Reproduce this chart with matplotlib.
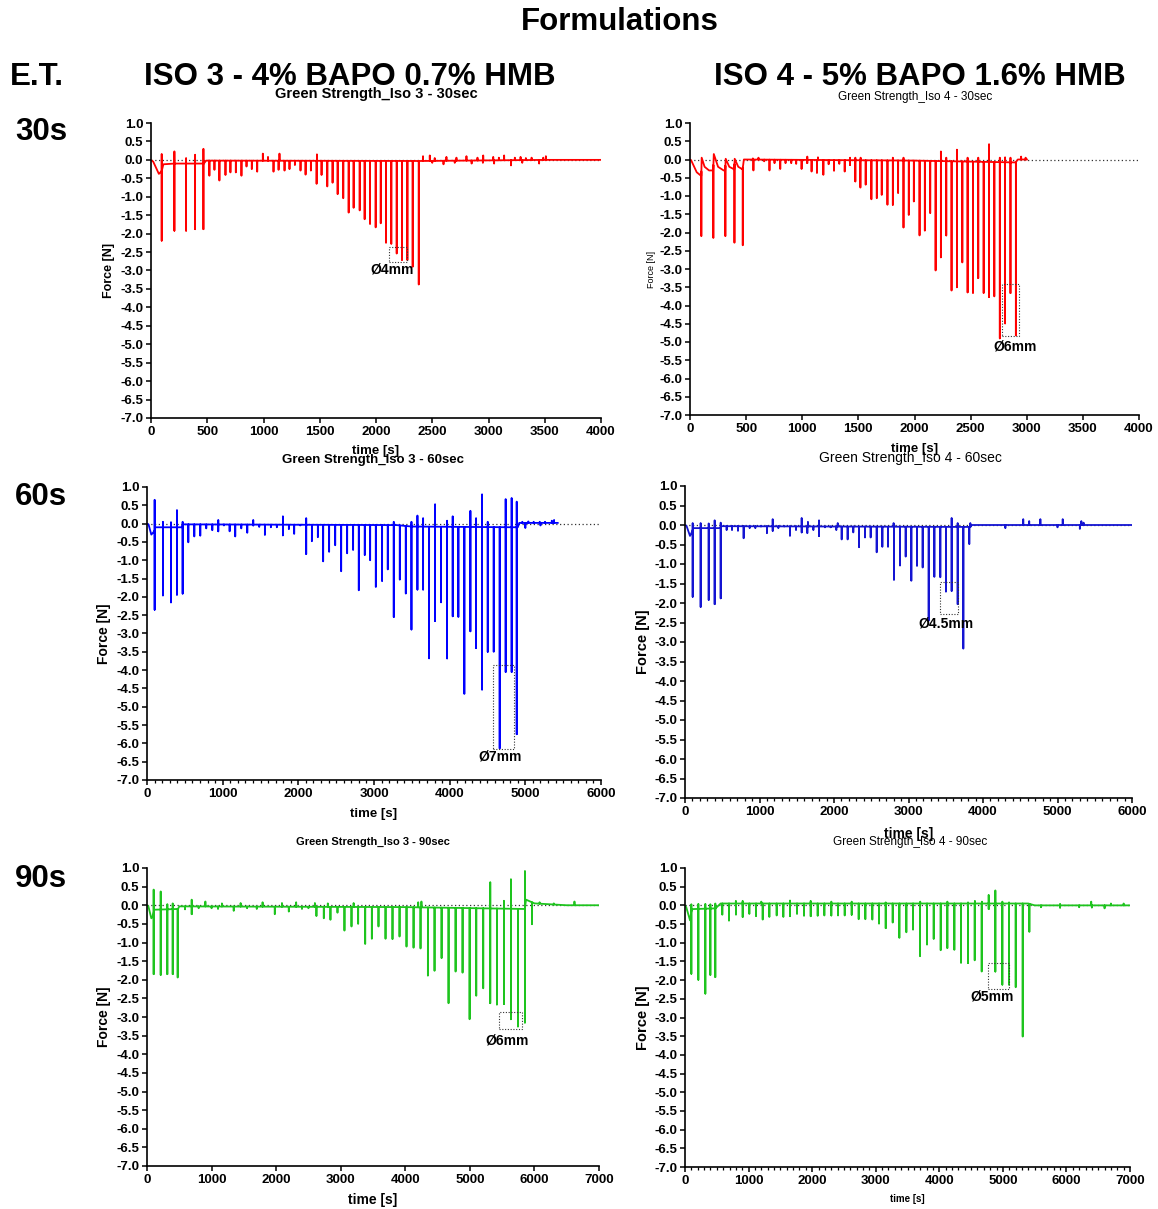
import numpy as np
import matplotlib
matplotlib.use("Agg")
import matplotlib.pyplot as plt
from matplotlib.patches import Rectangle
from matplotlib.ticker import MultipleLocator

plt.rcParams['font.family'] = ['Liberation Sans', 'DejaVu Sans']

W, H = 1158, 1209

# ---------------- data ----------------
# Iso 3 - 30 s (red)
p1_base_t = [0, 20, 70, 95, 110, 200, 470, 490, 2400, 3520, 4000]
p1_base_v = [0, -0.05, -0.38, -0.3, -0.12, -0.1, -0.1, -0.02, -0.03, 0.0, 0.0]
p1_dip_t = [95, 208, 312, 392, 466, 519, 564, 608, 662, 706, 754, 804, 849, 896, 944,
            1089, 1134, 1187, 1231, 1279, 1329, 1374, 1421, 1472, 1516, 1567, 1614, 1659,
            1709, 1757, 1801, 1855, 1899, 1947, 1997, 2042, 2089, 2136, 2184, 2231, 2279,
            2326, 2380, 2500, 2600, 2700, 2850, 2950, 3050, 3200, 3300, 3450]
p1_dip_v = [-2.19, -1.92, -1.92, -1.88, -1.88, -0.43, -0.27, -0.56, -0.41, -0.34, -0.34,
            -0.43, -0.18, -0.25, -0.32, -0.32, -0.27, -0.29, -0.25, -0.14, -0.29, -0.40,
            -0.29, -0.65, -0.41, -0.72, -0.62, -0.93, -1.04, -1.43, -1.30, -1.37, -1.61,
            -1.74, -1.83, -1.72, -2.25, -2.28, -2.54, -2.72, -2.72, -2.90, -3.38,
            -0.08, -0.12, -0.08, -0.1, -0.08, -0.1, -0.15, -0.08, -0.1]
p1_peak_t = [95, 208, 312, 392, 466, 994, 1040, 1142, 1475, 2418, 2478, 2522, 2626, 2715,
             2804, 2902, 2953, 3042, 3092, 3139, 3234, 3285, 3332, 3383, 3487, 3510]
p1_peak_v = [0.16, 0.23, 0.05, 0.14, 0.3, 0.17, 0.08, 0.17, 0.15, 0.1, 0.12, 0.05, 0.08,
             0.06, 0.1, 0.06, 0.12, 0.08, 0.06, 0.12, 0.06, 0.08, 0.05, 0.06, 0.06, 0.1]

# Iso 4 - 30 s (red)
p2_base_t = [0, 10, 60, 100, 104, 130, 170, 206, 212, 250, 300, 313, 318, 350, 394, 398,
             430, 468, 480, 2000, 2900, 2920, 3010]
p2_base_v = [0, -0.02, -0.35, -0.45, 0.05, -0.2, -0.3, -0.3, 0.15, -0.2, -0.3, -0.3, 0.02,
             -0.2, -0.27, 0.02, -0.2, -0.27, 0.0, -0.03, -0.08, 0.0, 0.0]
p2_dip_t = [101, 208, 315, 396, 470, 565, 661, 708, 753, 804, 851, 902, 946, 994, 1045,
            1083, 1131, 1188, 1235, 1283, 1330, 1378, 1426, 1473, 1518, 1565, 1616, 1664,
            1708, 1759, 1807, 1854, 1902, 1949, 1994, 2045, 2092, 2140, 2188, 2235, 2283,
            2330, 2378, 2426, 2473, 2521, 2568, 2616, 2664, 2711, 2760, 2807, 2855, 2903]
p2_dip_v = [-2.1, -2.15, -2.1, -2.28, -2.35, -0.3, -0.05, -0.3, -0.1, -0.26, -0.1, -0.1,
            -0.12, -0.26, -0.1, -0.33, -0.37, -0.42, -0.13, -0.31, -0.12, -0.33, -0.15,
            -0.6, -0.77, -0.69, -1.09, -1.06, -0.97, -1.24, -1.24, -0.92, -1.86, -1.52,
            -1.15, -2.08, -1.95, -1.47, -3.04, -2.68, -2.08, -3.59, -3.5, -2.82, -3.64,
            -3.66, -3.25, -3.66, -3.77, -3.75, -4.9, -4.49, -3.66, -4.82]
p2_peak_t = [560, 610, 1045, 1140, 1426, 1473, 1520, 1807, 1902, 2235, 2283, 2378, 2473,
             2568, 2664, 2760, 2807, 2855, 2950, 2990]
p2_peak_v = [0.03, 0.05, 0.08, 0.06, 0.05, 0.05, 0.05, 0.05, 0.05, 0.22, 0.05, 0.27, 0.05,
             0.05, 0.42, 0.05, 0.06, 0.05, 0.08, 0.05]

# Iso 3 - 60 s (blue)
p3_base_t = [0, 20, 57, 100, 110, 460, 480, 3300, 3500, 4900, 4920, 5440]
p3_base_v = [0, -0.02, -0.3, -0.2, -0.1, -0.1, -0.02, -0.04, -0.08, -0.1, 0.02, 0.02]
p3_dip_t = [101, 211, 317, 396, 471, 546, 625, 704, 783, 863, 942, 1017, 1092, 1166, 1246,
            1325, 1404, 1483, 1558, 1637, 1716, 1796, 1875, 1945, 2025, 2104, 2179, 2258,
            2328, 2407, 2487, 2566, 2645, 2724, 2799, 2878, 2949, 3024, 3107, 3182, 3261,
            3341, 3420, 3495, 3574, 3649, 3728, 3807, 3886, 3966, 4040, 4115, 4194, 4274,
            4349, 4428, 4503, 4582, 4661, 4740, 4819, 4886, 5000, 5200]
p3_dip_v = [-2.35, -1.96, -2.15, -1.94, -1.91, -0.51, -0.35, -0.33, -0.13, -0.18, -0.21,
            -0.05, -0.21, -0.35, -0.13, -0.25, -0.05, -0.09, -0.31, -0.1, -0.1, -0.32,
            -0.15, -0.28, -0.05, -0.83, -0.48, -0.37, -1.03, -0.77, -0.59, -1.3, -0.81,
            -0.72, -1.82, -0.86, -1.0, -1.73, -1.57, -1.25, -2.55, -1.53, -1.91, -2.89,
            -1.8, -1.8, -3.68, -2.66, -2.15, -3.68, -2.53, -2.55, -4.65, -2.94, -3.4,
            -4.53, -3.5, -3.5, -6.14, -4.05, -4.05, -5.75, -0.12, -0.05]
p3_peak_t = [101, 211, 317, 396, 471, 942, 1404, 1796, 2104, 3261, 3495, 3574, 3649, 3807,
             3966, 4040, 4274, 4349, 4428, 4503, 4740, 4819, 4886, 4960, 5040, 5110, 5190,
             5260, 5350, 5380]
p3_peak_v = [0.65, 0.05, 0.04, 0.37, 0.05, 0.1, 0.1, 0.2, 0.15, 0.05, 0.05, 0.22, 0.15,
             0.53, 0.08, 0.2, 0.35, 0.15, 0.8, 0.05, 0.67, 0.7, 0.6, 0.05, 0.06, 0.05, 0.05,
             0.05, 0.08, 0.1]

# Iso 4 - 60 s (blue)
p4_base_t = [0, 20, 67, 100, 110, 470, 490, 3830, 3850, 6000]
p4_base_v = [0, -0.02, -0.28, -0.15, -0.08, -0.08, -0.03, -0.05, 0.0, 0.0]
p4_dip_t = [103, 210, 318, 398, 479, 559, 631, 711, 787, 868, 944, 1020, 1100, 1177, 1253,
            1333, 1409, 1490, 1566, 1642, 1723, 1799, 1879, 1955, 2031, 2103, 2183, 2259,
            2336, 2416, 2492, 2573, 2649, 2725, 2805, 2886, 2962, 3038, 3114, 3190, 3271,
            3347, 3427, 3503, 3579, 3660, 3736, 3816, 4300, 5000, 5300]
p4_dip_v = [-1.84, -2.1, -1.92, -2.03, -1.88, -0.13, -0.13, -0.15, -0.34, -0.08, -0.08,
            -0.04, -0.21, -0.15, -0.08, -0.04, -0.28, -0.13, -0.19, -0.21, -0.13, -0.28,
            -0.06, -0.06, -0.13, -0.37, -0.37, -0.19, -0.57, -0.32, -0.32, -0.7, -0.56,
            -0.56, -1.41, -1.04, -0.81, -1.43, -1.05, -1.09, -2.45, -1.33, -1.34, -1.71,
            -1.69, -2.03, -3.17, -0.49, -0.08, -0.06, -0.1]
p4_peak_t = [103, 210, 318, 398, 479, 1177, 1566, 1650, 1799, 2050, 2800, 3579, 3660, 3830,
             4540, 4620, 4770, 5070, 5320, 5350]
p4_peak_v = [0.05, 0.05, 0.04, 0.12, 0.06, 0.15, 0.18, 0.08, 0.12, 0.05, 0.05, 0.18, 0.05,
             0.05, 0.15, 0.1, 0.15, 0.15, 0.1, 0.06]

# Iso 3 - 90 s (green)
p5_base_t = [0, 20, 67, 100, 110, 480, 500, 4000, 5850, 5870, 6000, 6500, 7000]
p5_base_v = [0, -0.02, -0.35, -0.25, -0.12, -0.1, -0.03, -0.05, -0.1, 0.15, 0.05, 0.0, 0.0]
p5_dip_t = [103, 212, 315, 398, 475, 589, 692, 800, 1000, 1100, 1343, 1550, 1700, 1979,
            2196, 2400, 2500, 2624, 2738, 2841, 2950, 3058, 3167, 3270, 3379, 3482, 3585,
            3694, 3802, 3911, 4019, 4128, 4236, 4350, 4453, 4562, 4670, 4779, 4887, 4996,
            5099, 5207, 5316, 5419, 5528, 5636, 5745, 5853, 5962]
p5_dip_v = [-1.85, -1.87, -1.85, -1.85, -1.94, -0.11, -0.24, -0.08, -0.08, -0.1, -0.15,
            -0.08, -0.1, -0.24, -0.17, -0.1, -0.08, -0.29, -0.35, -0.39, -0.2, -0.68,
            -0.57, -0.5, -1.04, -0.9, -0.57, -0.9, -0.91, -0.84, -1.11, -1.14, -1.16,
            -1.89, -1.76, -1.42, -2.63, -1.78, -1.81, -3.06, -2.43, -2.23, -2.63, -2.67,
            -2.65, -3.06, -3.26, -3.15, -0.51]
p5_peak_t = [103, 212, 315, 398, 692, 904, 1160, 1450, 1790, 2090, 2310, 2600, 2800, 3200,
             4200, 4250, 5316, 5528, 5636, 5853, 6080, 6300, 6620]
p5_peak_v = [0.42, 0.37, 0.03, 0.05, 0.15, 0.1, 0.05, 0.06, 0.08, 0.06, 0.08, 0.06, 0.05,
             0.06, 0.08, 0.1, 0.62, 0.12, 0.7, 0.92, 0.08, 0.05, 0.1]

# Iso 4 - 90 s (green)
p6_base_t = [0, 20, 79, 100, 110, 480, 560, 5400, 5500, 7000]
p6_base_v = [0, -0.05, -0.4, -0.15, -0.1, -0.08, 0.05, 0.05, 0.0, 0.0]
p6_dip_t = [100, 210, 320, 399, 477, 587, 692, 802, 907, 1012, 1117, 1222, 1327, 1442,
            1547, 1652, 1762, 1872, 1977, 2087, 2192, 2302, 2407, 2512, 2622, 2732, 2837,
            2947, 3052, 3157, 3267, 3372, 3482, 3587, 3697, 3807, 3912, 4022, 4127, 4237,
            4342, 4452, 4557, 4667, 4777, 4882, 4992, 5097, 5202, 5312, 5417, 5600, 5900,
            6200, 6400, 6600]
p6_dip_v = [-1.83, -1.99, -2.36, -1.86, -1.92, -0.25, -0.41, -0.25, -0.31, -0.23, -0.29,
            -0.38, -0.31, -0.27, -0.31, -0.29, -0.23, -0.28, -0.29, -0.28, -0.27, -0.27,
            -0.27, -0.27, -0.25, -0.37, -0.37, -0.38, -0.49, -0.61, -0.46, -0.87, -0.72,
            -0.65, -1.36, -1.05, -0.9, -1.2, -1.14, -1.19, -1.54, -1.54, -1.47, -1.77,
            -0.1, -1.77, -2.12, -2.12, -2.19, -3.51, -0.71, -0.05, -0.06, -0.05, -0.06,
            -0.08]
p6_peak_t = [100, 210, 320, 399, 477, 800, 907, 1200, 1652, 1977, 2302, 2622, 3157, 3700,
             4127, 4452, 4560, 4670, 4777, 4882, 4992, 5097, 5900, 6390, 6700, 6900]
p6_peak_v = [0.03, 0.04, 0.04, 0.03, 0.05, 0.12, 0.12, 0.1, 0.13, 0.12, 0.1, 0.1, 0.08,
             0.1, 0.1, 0.08, 0.12, 0.1, 0.28, 0.4, 0.1, 0.08, 0.04, 0.1, 0.05, 0.05]

# titles and annotations
titles = ["Green Strength_Iso 3 - 30sec", "Green Strength_Iso 4 - 30sec",
          "Green Strength_Iso 3 - 60sec", "Green Strength_Iso 4 - 60sec",
          "Green Strength_Iso 3 - 90sec", "Green Strength_Iso 4 - 90sec"]
diam_labels = ["Ø4mm", "Ø6mm", "Ø7mm", "Ø4.5mm", "Ø6mm", "Ø5mm"]
box_x = [(2116, 2276), (2781, 2932), (4577, 4846), (3423, 3660), (5445, 5802), (4772, 5102)]
box_y = [(-2.76, -2.35), (-4.83, -3.42), (-6.16, -3.86), (-2.27, -1.47), (-3.32, -2.86), (-2.24, -1.54)]
label_pos = [(2140, -2.97), (2894, -5.12), (4665, -6.35), (3500, -2.52), (5570, -3.64), (4824, -2.45)]
x_max = [4000, 4000, 6000, 6000, 7000, 7000]


def build_trace(base_t, base_v, dip_t, dip_v, peak_t, peak_v):
    """Baseline knots plus vertical spikes (down to dip, up to peak)."""
    pts = [(t, 0, v) for t, v in zip(base_t, base_v)]
    for t, v in list(zip(dip_t, dip_v)) + list(zip(peak_t, peak_v)):
        b = float(np.interp(t, base_t, base_v))
        pts += [(t, 1, b), (t, 2, v), (t + 0.5, 3, b)]
    pts.sort(key=lambda p: (p[0], p[1]))
    return np.array([p[0] for p in pts]), np.array([p[2] for p in pts])


panels = [
    dict(px=(151, 601, 123, 418), color='#ff0000',
         data=(p1_base_t, p1_base_v, p1_dip_t, p1_dip_v, p1_peak_t, p1_peak_v),
         title_xy=(376, 94), title_kw=dict(fontsize=10.5, fontweight='bold'),
         xlab_y=451, xlab_fs=9.5, ylab_x=109, ylab_fs=9, ylab_w='bold', xstep=500, minor=None),
    dict(px=(690, 1139, 123, 415), color='#ff0000',
         data=(p2_base_t, p2_base_v, p2_dip_t, p2_dip_v, p2_peak_t, p2_peak_v),
         title_xy=(915, 97), title_kw=dict(fontsize=8.5),
         xlab_y=449, xlab_fs=9.5, ylab_x=651, ylab_fs=6.5, ylab_w='normal', xstep=500, minor=None),
    dict(px=(147, 601, 487, 780), color='#0000ff',
         data=(p3_base_t, p3_base_v, p3_dip_t, p3_dip_v, p3_peak_t, p3_peak_v),
         title_xy=(373, 460), title_kw=dict(fontsize=9.5, fontweight='bold'),
         xlab_y=814, xlab_fs=9.5, ylab_x=104, ylab_fs=10, ylab_w='bold', xstep=1000, minor=100),
    dict(px=(685, 1132, 486, 798), color='#1414d2',
         data=(p4_base_t, p4_base_v, p4_dip_t, p4_dip_v, p4_peak_t, p4_peak_v),
         title_xy=(910, 458), title_kw=dict(fontsize=10),
         xlab_y=834, xlab_fs=10, ylab_x=643, ylab_fs=10.5, ylab_w='bold', xstep=1000, minor=100),
    dict(px=(147, 599, 868, 1166), color='#1ec41e',
         data=(p5_base_t, p5_base_v, p5_dip_t, p5_dip_v, p5_peak_t, p5_peak_v),
         title_xy=(373, 842), title_kw=dict(fontsize=8, fontweight='bold'),
         xlab_y=1200, xlab_fs=10, ylab_x=104, ylab_fs=10, ylab_w='bold', xstep=1000, minor=None),
    dict(px=(685, 1130, 868, 1167), color='#1ec41e',
         data=(p6_base_t, p6_base_v, p6_dip_t, p6_dip_v, p6_peak_t, p6_peak_v),
         title_xy=(910, 842), title_kw=dict(fontsize=8.5),
         xlab_y=1199, xlab_fs=7, ylab_x=643, ylab_fs=10.5, ylab_w='bold', xstep=1000, minor=100),
]

fig = plt.figure(figsize=(W / 100, H / 100), dpi=100)


def fx(x):
    return x / W


def fy(y):
    return 1 - y / H


for i, p in enumerate(panels):
    l, r, t, b = p['px']
    ax = fig.add_axes([fx(l), fy(b), (r - l) / W, (b - t) / H])
    xs, ys = build_trace(*p['data'])
    ax.axhline(0, color='#333333', lw=0.9, ls=(0, (1, 2)), zorder=1)
    ax.plot(xs, ys, color=p['color'], lw=1.3, solid_joinstyle='round',
            solid_capstyle='butt', zorder=2)

    (x0, x1), (y0, y1) = box_x[i], box_y[i]
    ax.add_patch(Rectangle((x0, y0), x1 - x0, y1 - y0, fill=False, ec='#333333',
                           lw=0.8, ls=(0, (1, 1.5)), zorder=3))
    ax.text(*label_pos[i], diam_labels[i], ha='center', va='center', fontsize=10,
            fontweight='bold', zorder=4)

    ax.set_xlim(0, x_max[i])
    ax.set_ylim(-7.0, 1.0)
    ax.set_xticks(np.arange(0, x_max[i] + 1, p['xstep']))
    ax.set_yticks(np.arange(-7.0, 1.01, 0.5))
    ax.set_yticklabels([f"{v:.1f}" for v in np.arange(-7.0, 1.01, 0.5)])
    if p['minor']:
        ax.xaxis.set_minor_locator(MultipleLocator(p['minor']))
        ax.tick_params(axis='x', which='minor', length=2.5, width=0.9)
    for s in ('top', 'right'):
        ax.spines[s].set_visible(False)
    for s in ('left', 'bottom'):
        ax.spines[s].set_linewidth(1.2)
    ax.tick_params(axis='both', which='major', length=3.5, width=1.1, pad=2)
    for lab in ax.get_xticklabels() + ax.get_yticklabels():
        lab.set_fontweight('bold')
        lab.set_fontsize(9.5)
    ax.patch.set_alpha(0)

    fig.text(fx(p['title_xy'][0]), fy(p['title_xy'][1]), titles[i], ha='center',
             va='center', **p['title_kw'])
    fig.text(fx((l + r) / 2), fy(p['xlab_y']), "time [s]", ha='center', va='center',
             fontsize=p['xlab_fs'], fontweight='bold')
    fig.text(fx(p['ylab_x']), fy((t + b) / 2), "Force [N]", ha='center', va='center',
             rotation=90, fontsize=p['ylab_fs'], fontweight=p['ylab_w'])

# headers
hdr = dict(fontsize=22.5, fontweight='bold', va='center')
fig.text(fx(620), fy(22), "Formulations", ha='center', **hdr)
fig.text(fx(10), fy(77), "E.T.", ha='left', **hdr)
fig.text(fx(350), fy(77), "ISO 3 - 4% BAPO 0.7% HMB", ha='center', **hdr)
fig.text(fx(920), fy(77), "ISO 4 - 5% BAPO 1.6% HMB", ha='center', **hdr)
for lab, y in [("30s", 132), ("60s", 497), ("90s", 879)]:
    fig.text(fx(15), fy(y), lab, ha='left', **hdr)

fig.savefig("out.png", dpi=100)
